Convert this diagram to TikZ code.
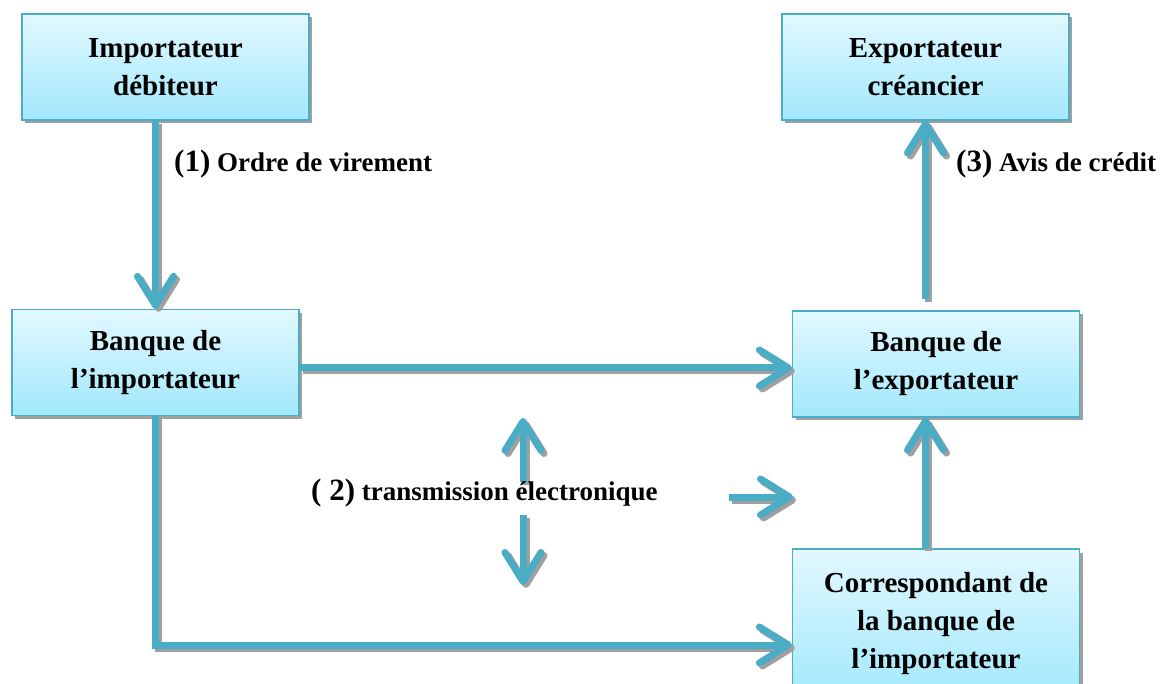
\documentclass[tikz,border=0pt]{standalone}
\usepackage{fontspec}
\setmainfont{Liberation Serif}
\usetikzlibrary{arrows.meta,shadows}
\definecolor{flowblue}{RGB}{75,172,198}
\definecolor{boxtop}{RGB}{226,248,255}
\definecolor{boxbot}{RGB}{162,232,252}
\definecolor{shadegray}{RGB}{160,160,160}
\tikzset{
  box/.style={draw=flowblue, line width=1.2pt, top color=boxtop, bottom color=boxbot,
    minimum width=287pt, minimum height=106pt, align=center, inner sep=0pt,
    font=\fontsize{29}{38}\selectfont\bfseries,
    drop shadow={shadow xshift=3pt, shadow yshift=-3.5pt, fill=shadegray, opacity=1}},
  flowbase/.style={line width=7pt,
    -{Straight Barb[length=29pt,width=36pt,round]}},
  flow/.style={flowbase, draw=flowblue},
  flowshade/.style={flowbase, draw=shadegray,
    transform canvas={shift={(3pt,-3pt)}}},
  lbl/.style={inner sep=0pt, anchor=base west, font=\fontsize{27}{30}\selectfont\bfseries},
}
\newcommand\stepnum[1]{{\fontsize{31}{31}\selectfont #1}}
% a connector with its grey drop shadow
\newcommand\flowpath[2][]{%
  \draw[flowshade,#1] #2;
  \draw[flow,#1] #2;}
\begin{document}
\begin{tikzpicture}[x=1pt,y=-1pt]
\useasboundingbox (0,0) rectangle (1162,684);

% parties and banks
\node[box] (imp)  at (165.5,67)  {Importateur\\débiteur};
\node[box] (exp)  at (925.5,67)  {Exportateur\\créancier};
\node[box] (bimp) at (155.5,362.5) {Banque de\\l’importateur};
\node[box] (bexp) at (936,364)   {Banque de\\l’exportateur};
\node[box, minimum height=150pt] (corr) at (936,624)
  {Correspondant de\\la banque de\\l’importateur};

% helper points
\coordinate (h)     at (0,368);
\coordinate (low)   at (0,645);
\coordinate (upA)   at (523,482);
\coordinate (upB)   at (523,418);
\coordinate (dnA)   at (523,515);
\coordinate (dnB)   at (523,585);
\coordinate (rtA)   at (729,497);
\coordinate (rtB)   at (793,497);

% flows
\flowpath{(imp.south -| bimp.north) -- (bimp.north)}
\flowpath[shorten <=11pt]{(bexp.north -| exp.south) -- (exp.south)}
\flowpath{(bimp.east |- h) -- (bexp.west |- h)}
\flowpath{(corr.north -| exp.south) -- (bexp.south -| exp.south)}
\flowpath{(bimp.south) |- (corr.west |- low)}
\flowpath{(upA) -- (upB)}
\flowpath{(dnA) -- (dnB)}
\flowpath{(rtA) -- (rtB)}

% step labels
\node[lbl] (l1) at (174,172) {\stepnum{(1)} Ordre de virement};
\node[lbl] (l3) at (956,172) {\stepnum{(3)} Avis de crédit};
\node[lbl] (l2) at (311,500) {\stepnum{( 2)} transmission électronique};
\end{tikzpicture}
\end{document}
